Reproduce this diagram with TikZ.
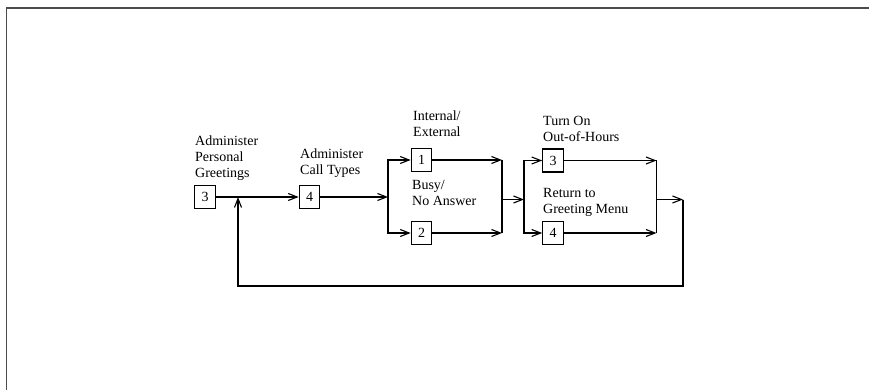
\documentclass[tikz,border=0pt]{standalone}
\usepackage{fontspec}
\setmainfont{Liberation Serif}
\usepackage{tikz}
\usetikzlibrary{arrows.meta, positioning}

\begin{document}
\begin{tikzpicture}[x=1pt, y=-1pt,
        numbox/.style={rectangle, draw=black, line width=1.1pt, minimum width=20.5pt, minimum height=23pt, inner sep=0pt, font=\fontsize{14}{16}\selectfont},
        note/.style={anchor=north west, inner sep=0pt, align=left, font=\fontsize{14}{16}\selectfont},
        link/.style={line width=1.1pt, color=black},
        arrow/.style={link, -{Straight Barb[length=9pt, width=7pt, line width=1.1pt]}},
        frame/.style={line width=1.3pt, color=black!70}
    ]
        \useasboundingbox (0,0) rectangle (869,390);
        \draw[frame] (6.5,390) |- (869,8);

        \node[numbox] (apg) at (205,197) {3};
        \node[numbox] (act) at (309.5,197) {4};
        \node[numbox] (ext) at (421.5,160) {1};
        \node[numbox] (busy) at (421.5,233) {2};
        \node[numbox] (ooh) at (553,160.5) {3};
        \node[numbox] (menu) at (553,233) {4};

        \node[note] (apgtxt) at (195,135.4) {Administer\\Personal\\Greetings};
        \node[note] (acttxt) at (300,148.4) {Administer\\Call Types};
        \node[note] (exttxt) at (413,111) {Internal/\\External};
        \node[note] (busytxt) at (412,180.4) {Busy/\\No Answer};
        \node[note] (oohtxt) at (543,116) {Turn On\\Out-of-Hours};
        \node[note] (menutxt) at (543,187.7) {Return to\\Greeting Menu};

        \coordinate (split1) at (388,197);
        \coordinate (join1a) at (502,160);
        \coordinate (join1b) at (502,233);
        \coordinate (join1) at (502,199.5);
        \coordinate (split2) at (524,199.5);
        \coordinate (join2a) at (656.5,160.5);
        \coordinate (join2b) at (656.5,233);
        \coordinate (join2) at (656.5,199.5);
        \coordinate (back) at (683,199.5);
        \coordinate (backlow) at (683,286);
        \coordinate (entry) at (238,197);

        \draw[arrow] (apg) -- (act);
        \draw[arrow] (act) -- (split1);
        \draw[arrow] (split1) |- (ext);
        \draw[arrow] (split1) |- (busy);
        \draw[arrow] (ext) -- (join1a);
        \draw[arrow] (busy) -- (join1b);
        \draw[link] (join1a) -- (join1b);
        \draw[arrow] (join1) -- (split2);
        \draw[arrow] (split2) |- (ooh);
        \draw[arrow] (split2) |- (menu);
        \draw[arrow] (ooh) -- (join2a);
        \draw[arrow] (menu) -- (join2b);
        \draw[link] (join2a) -- (join2b);
        \draw[arrow] (join2) -- (back);
        \draw[arrow] (back) -- (backlow) -| (entry);
    \end{tikzpicture}
\end{document}
